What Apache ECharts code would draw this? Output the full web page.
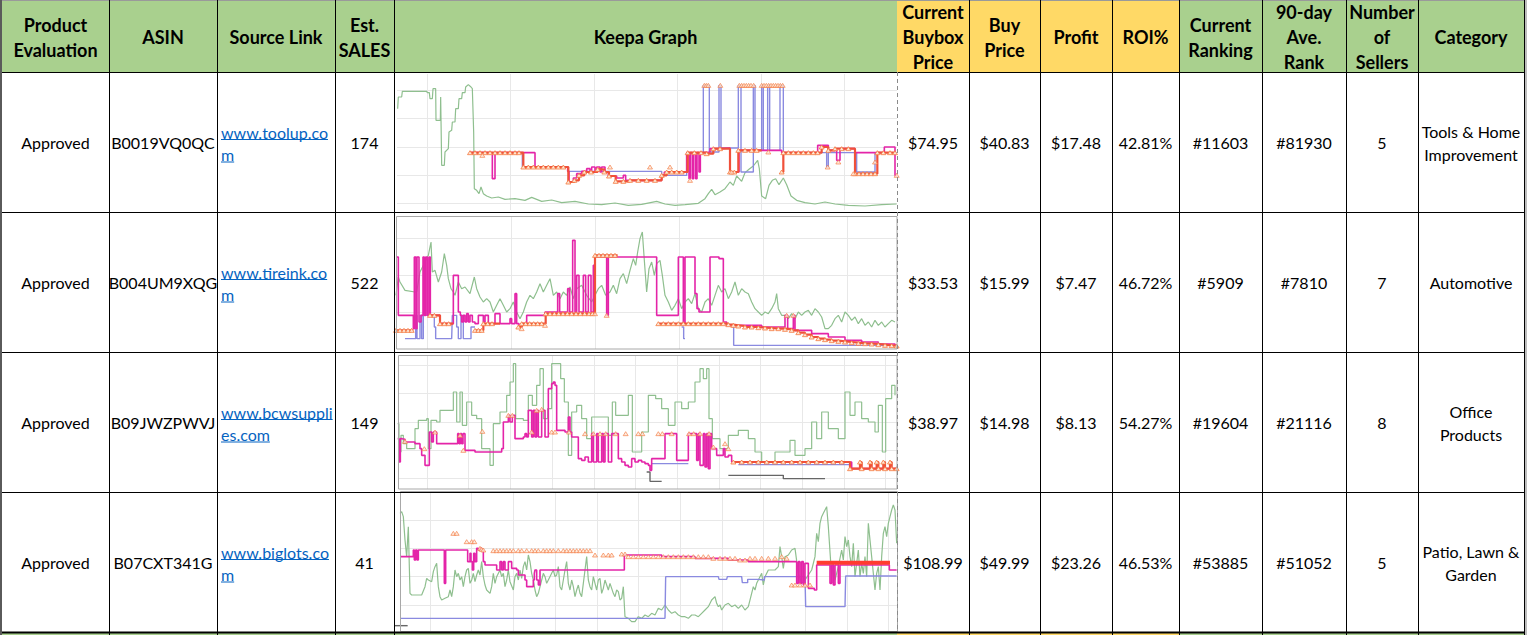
<!DOCTYPE html>
<html><head><meta charset="utf-8">
<script src="https://cdn.jsdelivr.net/npm/echarts@6/dist/echarts.min.js"></script>
<style>html,body{margin:0;padding:0;background:#fff}#c{width:1527px;height:635px}</style>
</head><body><div id="c"></div>
<script>
// ---------- table data ----------
const headers = ['Product\nEvaluation','ASIN','Source Link','Est.\nSALES','Keepa Graph','Current\nBuybox\nPrice','Buy\nPrice','Profit','ROI%','Current\nRanking','90-day\nAve.\nRank','Number\nof\nSellers','Category'];
const headerTone = ['g','g','g','g','g','y','y','y','y','g','g','g','g'];
const evaluation = ['Approved','Approved','Approved','Approved'];
const asin = ['B0019VQ0QC','B004UM9XQG','B09JWZPWVJ','B07CXT341G'];
const sourceLink = [['www.toolup.co','m'],['www.tireink.co','m'],['www.bcwsuppli','es.com'],['www.biglots.co','m']];
const estSales = [174,522,149,41];
const buyboxPrice = ['$74.95','$33.53','$38.97','$108.99'];
const buyPrice = ['$40.83','$15.99','$14.98','$49.99'];
const profit = ['$17.48','$7.47','$8.13','$23.26'];
const roi = ['42.81%','46.72%','54.27%','46.53%'];
const currentRanking = ['#11603','#5909','#19604','#53885'];
const avgRank90 = ['#81930','#7810','#21116','#51052'];
const sellers = [5,7,8,5];
const category = [['Tools & Home','Improvement'],['Automotive'],['Office','Products'],['Patio, Lawn &','Garden']];

// ---------- Keepa graph data (time index, level) ----------
const g1Rank = [[8,310],[10,345],[20,345],[22,362],[95,362],[97,358],[103,358],[105,340],[112,340],[114,370],[122,370],[123,275],[128,275],[136,275],[137,345],[139,345],[140,140],[148,140],[150,180],[160,190],[162,240],[170,245],[172,270],[180,270],[182,310],[190,310],[192,340],[200,340],[202,358],[210,358],[212,375],[220,382],[228,375],[232,370],[236,240],[238,70],[245,65],[252,55],[258,75],[265,55],[275,48],[290,42],[310,45],[330,38],[360,40],[390,35],[410,44],[440,32],[470,36],[500,28],[540,32],[580,24],[620,22],[660,27],[700,20],[740,23],[785,32],[810,24],[840,20],[870,22],[910,26],[930,40],[940,55],[950,68],[960,52],[975,60],[990,70],[1005,90],[1015,80],[1025,108],[1040,92],[1050,118],[1062,128],[1075,138],[1088,155],[1093,130],[1100,48],[1112,40],[1122,80],[1132,95],[1142,100],[1152,82],[1165,102],[1175,82],[1188,48],[1205,35],[1230,28],[1260,24],[1290,30],[1320,24],[1360,20],[1410,18],[1460,22],[1505,24]];
const g1BuyBox = [[225,178],[292,100],[300,178],[420,135],[518,122],[522,90],[535,102],[545,115],[560,122],[575,130],[585,120],[590,135],[600,120],[605,135],[615,120],[620,135],[630,120],[640,108],[665,102],[685,110],[692,95],[800,110],[808,120],[875,178],[882,100],[886,178],[892,100],[896,178],[902,100],[906,178],[912,120],[916,178],[925,180],[945,190],[975,192],[1005,120],[1032,185],[1160,178],[1268,200],[1300,185],[1325,155],[1335,190],[1380,178],[1468,195],[1500,110],[1505,110]];
const g1New = [[225,178],[378,178],[382,135],[520,122],[800,110],[875,178],[925,380],[943,180],[972,380],[978,192],[1030,380],[1038,120],[1075,380],[1080,185],[1100,380],[1105,185],[1118,380],[1124,185],[1155,380],[1165,178],[1295,135],[1300,178],[1385,120],[1440,178],[1505,178]];
const g1Fba = [[225,178],[240,178],[255,178],[270,178],[285,178],[300,178],[315,178],[330,178],[345,178],[360,178],[372,178],[385,135],[400,135],[415,135],[430,135],[445,135],[460,135],[475,135],[490,135],[505,135],[520,90],[538,95],[552,110],[568,120],[588,120],[608,128],[628,120],[642,108],[662,92],[685,92],[705,95],[730,95],[755,95],[780,95],[800,110],[815,120],[830,120],[845,120],[860,120],[878,178],[898,178],[918,178],[935,175],[955,190],[975,190],[1005,120],[1018,120],[1030,185],[1050,185],[1070,185],[1085,185],[1100,null],[1160,120],[1165,178],[1180,178],[1195,178],[1210,178],[1225,178],[1240,178],[1255,178],[1268,178],[1280,195],[1300,185],[1320,190],[1340,190],[1360,190],[1380,115],[1392,115],[1404,115],[1416,115],[1428,115],[1440,115],[1447,178],[1465,178],[1485,178],[1500,178]];
const g1Offers = [[928,380],[934,380],[940,380],[976,380],[1033,380],[1040,380],[1047,380],[1054,380],[1061,380],[1068,380],[1076,380],[1100,380],[1107,380],[1114,380],[1121,380],[1128,380],[1135,380],[1142,380],[1149,380],[1156,380],[1163,380],[262,170],[645,135],[765,135],[825,135],[885,95],[1010,120],[1120,180],[1298,135],[1330,150],[1440,150],[1375,115],[1505,110]];

const g2Rank = [[3,170],[10,225],[15,210],[30,185],[60,180],[65,180],[75,240],[90,270],[100,290],[108,330],[112,240],[120,245],[130,210],[140,240],[148,295],[155,260],[160,220],[168,190],[175,180],[180,170],[190,210],[200,190],[210,195],[225,175],[238,225],[245,190],[255,165],[265,150],[275,160],[285,150],[295,120],[305,140],[315,160],[325,140],[335,120],[345,130],[355,150],[365,120],[375,100],[385,120],[395,150],[405,170],[415,160],[425,180],[435,205],[445,180],[455,200],[465,220],[475,170],[485,180],[495,160],[505,180],[515,170],[525,195],[535,160],[545,190],[560,200],[575,170],[590,150],[600,170],[610,190],[620,200],[632,170],[645,180],[655,200],[665,175],[675,220],[685,235],[695,205],[705,245],[715,280],[722,260],[728,300],[735,340],[742,360],[748,275],[755,180],[762,250],[770,270],[778,230],[785,265],[795,275],[802,230],[810,170],[820,150],[830,125],[840,140],[850,160],[860,130],[870,150],[880,160],[890,145],[900,175],[910,130],[920,120],[930,150],[940,160],[950,140],[960,170],[970,200],[980,180],[990,190],[1000,160],[1010,180],[1020,210],[1030,170],[1040,190],[1050,180],[1060,175],[1070,150],[1080,130],[1090,120],[1100,110],[1110,120],[1120,115],[1130,130],[1140,150],[1145,175],[1150,130],[1160,110],[1170,110],[1180,100],[1190,115],[1200,100],[1210,120],[1220,110],[1230,120],[1240,125],[1250,110],[1260,130],[1270,120],[1280,105],[1290,70],[1300,70],[1310,80],[1320,100],[1330,110],[1340,90],[1350,120],[1360,110],[1370,95],[1380,105],[1390,85],[1400,100],[1410,80],[1420,90],[1430,75],[1440,95],[1450,80],[1460,90],[1470,75],[1480,85],[1490,95],[1500,90]];
const g2BuyBox = [[3,285],[10,110],[48,110],[55,70],[58,285],[63,70],[66,285],[72,90],[78,110],[84,285],[88,110],[92,285],[97,110],[102,285],[106,110],[135,85],[175,230],[190,120],[196,110],[200,90],[205,110],[210,90],[215,115],[220,90],[225,110],[232,90],[240,85],[250,110],[265,90],[270,110],[280,85],[300,115],[315,85],[345,100],[350,85],[360,175],[365,85],[372,75],[380,85],[395,110],[450,120],[488,175],[494,120],[518,190],[524,120],[533,335],[540,120],[545,230],[552,120],[565,230],[572,120],[580,230],[588,120],[595,260],[600,285],[635,110],[640,285],[785,110],[850,285],[865,85],[870,285],[900,175],[906,130],[912,120],[945,285],[965,285],[972,280],[985,90],[995,80],[1100,75],[1170,110],[1178,70],[1195,110],[1200,65],[1250,55],[1300,45],[1350,35],[1400,30],[1450,24],[1500,20]];
const g2New = [[30,40],[62,110],[66,40],[75,110],[80,40],[85,110],[118,75],[122,40],[170,40],[172,110],[185,75],[190,40],[198,110],[205,40],[225,40],[228,75],[240,null],[860,75],[866,40],[870,null],[1012,75],[1016,20],[1505,20]];
const g2Fba = [[3,65],[15,65],[27,65],[39,65],[50,65],[55,null],[105,110],[118,110],[135,85],[148,85],[161,85],[175,null],[240,65],[250,65],[260,65],[265,85],[278,85],[291,85],[315,null],[370,75],[380,85],[392,85],[404,85],[416,85],[428,85],[440,85],[452,115],[465,115],[478,115],[491,115],[504,115],[517,115],[530,115],[543,115],[556,115],[569,115],[582,115],[592,115],[600,290],[612,290],[624,290],[636,290],[648,290],[660,290],[668,null],[790,85],[805,85],[820,85],[835,85],[850,85],[865,85],[880,85],[895,85],[910,85],[925,85],[940,85],[955,85],[970,85],[985,85],[1000,82],[1015,80],[1030,78],[1050,75],[1070,75],[1090,73],[1110,72],[1130,70],[1150,70],[1170,68],[1190,65],[1210,58],[1230,52],[1250,45],[1270,40],[1290,37],[1310,34],[1330,32],[1350,30],[1370,28],[1390,26],[1410,25],[1430,24],[1450,22],[1470,20],[1490,19],[1505,18]];
const g2Offers = [[600,115],[635,110],[380,70],[450,80],[1175,110],[1195,110]];

const g3Rank = [[8,205],[12,120],[18,170],[25,145],[35,130],[60,190],[70,215],[95,220],[100,130],[108,215],[125,210],[135,245],[150,245],[175,300],[185,210],[195,300],[202,200],[215,270],[230,230],[245,220],[260,130],[285,80],[295,205],[315,240],[335,290],[345,330],[355,385],[362,220],[385,215],[400,290],[412,260],[425,320],[435,370],[445,220],[458,250],[470,385],[490,385],[497,340],[508,270],[520,110],[530,240],[545,260],[560,220],[575,160],[590,225],[640,170],[652,270],[662,230],[700,290],[712,120],[740,180],[760,290],[782,280],[800,250],[820,200],[840,270],[860,250],[880,270],[900,330],[915,370],[925,340],[935,370],[942,220],[952,160],[975,130],[1000,170],[1030,185],[1060,160],[1080,120],[1100,90],[1140,120],[1185,155],[1200,110],[1230,130],[1250,210],[1265,160],[1280,240],[1300,190],[1330,160],[1350,300],[1365,230],[1380,270],[1400,220],[1420,210],[1440,180],[1450,260],[1462,120],[1472,280],[1490,320],[1500,290]];
const g3BuyBox = [[8,160],[12,90],[16,160],[20,158],[30,150],[60,145],[75,130],[80,110],[90,80],[100,80],[103,180],[110,150],[115,180],[125,145],[185,145],[188,175],[192,145],[196,175],[200,145],[204,175],[210,125],[240,120],[300,120],[320,130],[325,210],[340,230],[345,210],[352,230],[360,160],[385,165],[390,175],[395,165],[400,245],[410,165],[415,245],[420,165],[425,245],[430,165],[440,245],[450,165],[460,310],[470,325],[475,330],[480,320],[485,185],[510,180],[520,225],[525,180],[530,165],[550,100],[560,95],[570,105],[580,90],[590,175],[595,90],[605,175],[610,90],[620,175],[625,90],[630,175],[640,90],[650,175],[670,100],[680,90],[690,80],[700,75],[710,100],[720,90],[730,95],[740,90],[750,85],[760,80],[765,65],[770,100],[810,175],[840,175],[845,95],[875,95],[880,175],[900,175],[905,95],[910,175],[915,80],[925,175],[930,75],[935,175],[940,70],[945,175],[950,130],[965,110],[985,130],[990,105],[1000,110],[1010,90],[1365,90],[1370,70],[1505,70]];
const g3New = [[770,85],[880,85],[881,null],[1030,82],[1370,82],[1371,null]];
const g3Fba = [[1015,90],[1040,90],[1065,90],[1090,90],[1115,90],[1140,90],[1165,90],[1190,90],[1215,90],[1240,90],[1265,90],[1290,90],[1315,90],[1340,90],[1365,70],[1395,90],[1400,70],[1425,90],[1430,70],[1445,90],[1450,70],[1465,90],[1470,70],[1485,90],[1490,70],[1505,70]];
const g3Offers = [[30,152],[88,130],[120,180],[195,170],[205,125],[262,182],[340,230],[352,230],[410,180],[425,245],[440,248],[470,180],[480,180],[522,180],[570,175],[595,175],[615,175],[632,175],[662,175],[692,175],[730,175],[742,175],[790,175],[802,175],[830,175],[882,175],[896,175],[915,175],[942,175],[955,135],[990,145],[1000,130]];
const g3Used = [[755,60],[765,32],[800,32],[801,null],[1000,50],[1165,40],[1290,40]];

const g4Rank = [[15,365],[20,370],[25,355],[30,285],[35,235],[40,325],[45,125],[50,120],[80,120],[90,145],[95,170],[100,165],[110,160],[115,190],[120,205],[125,215],[130,145],[135,115],[140,105],[150,110],[160,115],[165,135],[170,115],[175,145],[180,195],[185,175],[190,185],[195,165],[200,175],[205,145],[210,175],[215,195],[220,200],[225,155],[230,165],[235,185],[240,160],[245,180],[250,195],[255,180],[260,220],[265,175],[270,150],[275,135],[285,125],[290,145],[295,185],[300,155],[305,175],[315,195],[320,175],[325,185],[330,145],[335,165],[340,195],[345,160],[355,135],[360,175],[365,185],[370,165],[375,195],[380,170],[385,205],[390,220],[395,195],[400,240],[405,220],[410,185],[415,165],[420,135],[425,115],[430,125],[440,165],[445,185],[450,175],[455,155],[460,165],[470,185],[475,195],[480,175],[485,180],[490,205],[495,145],[500,135],[505,165],[510,195],[515,220],[520,155],[525,135],[530,165],[535,145],[540,115],[545,135],[550,150],[555,125],[560,115],[565,155],[570,195],[575,235],[580,165],[585,145],[590,135],[595,175],[600,155],[605,135],[610,165],[615,170],[620,125],[625,140],[630,165],[640,135],[645,155],[650,140],[655,125],[660,115],[665,135],[670,130],[675,105],[680,110],[685,145],[690,55],[700,50],[710,40],[720,40],[730,55],[740,50],[750,60],[760,55],[770,65],[780,60],[790,80],[800,75],[810,90],[820,75],[830,65],[840,70],[850,60],[860,55],[870,55],[880,50],[890,60],[900,60],[910,55],[920,65],[930,75],[940,85],[950,105],[960,115],[965,95],[970,85],[975,90],[980,75],[990,90],[1000,95],[1010,85],[1020,90],[1030,80],[1040,90],[1050,75],[1060,85],[1070,125],[1075,145],[1080,135],[1085,155],[1095,175],[1100,185],[1105,150],[1110,175],[1120,195],[1130,195],[1140,195],[1150,205],[1155,265],[1160,235],[1165,200],[1170,235],[1180,240],[1190,255],[1200,260],[1210,185],[1220,155],[1230,165],[1240,180],[1250,195],[1260,235],[1265,305],[1270,280],[1275,335],[1280,355],[1285,365],[1290,375],[1295,385],[1300,325],[1310,175],[1315,215],[1320,165],[1330,205],[1340,255],[1345,225],[1350,295],[1355,265],[1360,285],[1365,235],[1370,205],[1375,275],[1380,175],[1385,215],[1390,255],[1395,175],[1400,215],[1405,185],[1410,235],[1415,175],[1420,335],[1425,285],[1430,235],[1435,185],[1440,135],[1445,185],[1450,205],[1455,135],[1460,235],[1465,305],[1470,325],[1475,295],[1480,335],[1485,355],[1490,375],[1495,390],[1500,375],[1505,275]];
const g4BuyBox = [[15,235],[50,235],[55,255],[58,225],[62,255],[66,225],[70,255],[145,255],[148,155],[152,255],[215,255],[218,220],[225,245],[228,220],[232,195],[236,245],[240,220],[245,260],[250,255],[255,260],[260,255],[265,220],[270,210],[300,210],[305,195],[315,220],[320,195],[325,220],[330,195],[340,220],[350,200],[365,195],[370,180],[380,180],[390,165],[395,145],[410,145],[415,165],[418,185],[420,195],[425,165],[430,150],[435,195],[685,195],[688,240],[800,235],[850,235],[900,230],[940,230],[1000,225],[1050,225],[1060,220],[1190,220],[1205,155],[1210,220],[1215,155],[1220,220],[1225,150],[1230,215],[1240,140],[1250,140],[1258,135],[1265,210],[1300,210],[1305,155],[1310,210],[1315,150],[1320,210],[1330,155],[1335,210],[1480,210],[1483,195],[1505,195]];
const g4New = [[15,50],[810,50],[812,175],[970,175],[972,167],[995,167],[997,175],[1040,175],[1042,157],[1055,157],[1058,167],[1085,167],[1090,165],[1108,175],[1230,175],[1232,85],[1350,85],[1352,177],[1505,177]];
const g4Fba = [[1265,217],[1300,217],[1340,217],[1380,217],[1420,217],[1460,217],[1485,217]];
const g4Offers = [[175,305],[185,305],[215,280],[230,280],[238,280],[255,260],[260,257],[265,255],[295,253],[305,253],[315,253],[325,253],[335,253],[345,253],[355,253],[370,253],[380,253],[395,253],[410,253],[420,253],[430,253],[445,253],[455,253],[465,253],[475,253],[490,253],[505,253],[515,253],[525,253],[535,253],[545,253],[555,253],[565,253],[575,253],[585,253],[600,240],[625,240],[640,240],[650,240],[680,243],[690,243],[700,235],[715,235],[730,235],[745,235],[760,235],[775,235],[790,235],[805,235],[820,235],[835,235],[850,235],[865,235],[880,235],[895,235],[910,235],[925,235],[940,235],[955,230],[975,230],[990,230],[1005,230],[1020,230],[1035,225],[1050,225],[1065,230],[1080,230],[1100,230],[1120,230],[1140,230],[1160,235],[1175,230],[1190,150],[1200,150],[1215,150],[1230,150],[1245,150]];
const g4Used = [[0,28],[38,28]];

// ---------- layout ----------
const colX = [2,109,217,335,394,897,969,1040,1112,1179,1262,1346,1418,1524];
const rowY = [0,72,212,352,492,632];
const GREEN = '#A9D08E', GOLD = '#FFD966';
const FONT = 'Lato, Carlito, "Noto Sans", sans-serif';

const graphs = [
  {box:[395,72,505,140], H:420, frame:null, v:[427,83.5,74,210,897], h:[397,897,203.7,28.35,4],
   rank:g1Rank, rankStep:false, buy:g1BuyBox, nw:g1New, fba:g1Fba, offers:g1Offers, used:null},
  {box:[395,212,505,140], H:420, frame:[396.5,216.5,500.5,132.5], v:[427,84,216.5,349,897], h:[396.5,897,312,36.65,2],
   rank:g2Rank, rankStep:false, buy:g2BuyBox, nw:g2New, fba:g2Fba, offers:g2Offers, used:null},
  {box:[395,352,505,140], H:420, frame:[398.5,355.5,498.5,133.5], v:[427,41.7,355.5,489,897], h:[398.5,897,478.7,28.35,4],
   rank:g3Rank, rankStep:true, buy:g3BuyBox, nw:g3New, fba:g3Fba, offers:g3Offers, used:g3Used},
  {box:[395,490,505,145], H:435, frame:[400.5,491.5,497,140], v:[430,41.7,491.5,631.5,897.5], h:[400.5,897.5,605,28.33,3],
   rank:g4Rank, rankStep:false, buy:g4BuyBox, nw:g4New, fba:g4Fba, offers:g4Offers, used:g4Used, fbaThick:true}
];

const grid=[], xAxis=[], yAxis=[], series=[];
const hidden = {show:false};
const GL = '#e8e8e8';
const triStyle = {color:'#fde6d6', borderColor:'#f47a40', borderWidth:0.8};
const TRI = [5,4];
graphs.forEach((g,gi)=>{
  const base = grid.length;
  grid.push({left:g.box[0], top:g.box[1], width:g.box[2], height:g.box[3], containLabel:false});
  xAxis.push({type:'value', gridIndex:base, min:0, max:1515, show:false});
  yAxis.push({type:'value', gridIndex:base, min:0, max:g.H, show:false});
  const vw = g.v[4]-g.v[0];
  grid.push({left:g.v[0], top:g.v[2], width:vw, height:g.v[3]-g.v[2], containLabel:false});
  xAxis.push({type:'value', gridIndex:base+1, min:0, max:vw, interval:g.v[1], axisLine:hidden, axisTick:hidden, axisLabel:hidden,
    splitLine:{show:true, showMaxLine:false, lineStyle:{color:GL, width:1}}});
  yAxis.push({type:'value', gridIndex:base+1, min:0, max:1, show:false});
  const hh = g.h[3]*g.h[4];
  grid.push({left:g.h[0], top:g.h[2]-hh, width:g.h[1]-g.h[0], height:hh, containLabel:false});
  xAxis.push({type:'value', gridIndex:base+2, min:0, max:1, show:false});
  yAxis.push({type:'value', gridIndex:base+2, min:0, max:hh, interval:g.h[3], axisLine:hidden, axisTick:hidden, axisLabel:hidden,
    splitLine:{show:true, lineStyle:{color:GL, width:1}}});

  const common = {xAxisIndex:base, yAxisIndex:base, silent:true, animation:false};
  series.push(Object.assign({type:'line', data:g.rank, symbol:'none', step:g.rankStep?'end':false,
    lineStyle:{color:'#8fbf8f', width:1.2}, z:2}, common));
  if (g.used) series.push(Object.assign({type:'line', data:g.used, symbol:'none', step:'end',
    lineStyle:{color:'#666', width:1.4}, z:2}, common));
  series.push(Object.assign({type:'line', data:g.nw, symbol:'none', step:'end',
    lineStyle:{color:'#8a8ae0', width:1.4}, z:3}, common));
  series.push(Object.assign({type:'line', data:g.buy, symbol:'none', step:'end',
    lineStyle:{color:'#e424a8', width:1.6}, z:4}, common));
  if (g.fbaThick) {
    series.push(Object.assign({type:'line', data:g.fba, symbol:'none', step:'end',
      lineStyle:{color:'#ff3b2f', width:4}, z:5}, common));
  } else {
    series.push(Object.assign({type:'line', data:g.fba, step:'end', symbol:'triangle', symbolSize:TRI, showSymbol:true,
      itemStyle:triStyle, lineStyle:{color:'#f0503a', width:2.2}, z:5}, common));
  }
  series.push(Object.assign({type:'scatter', data:g.offers, symbol:'triangle', symbolSize:TRI,
    itemStyle:triStyle, z:6}, common));
});

// ---------- table graphics ----------
const gfx = [];
const ctx = document.createElement('canvas').getContext('2d');
for (let c=0;c<headers.length;c++){
  const fill = headerTone[c]==='y'?GOLD:GREEN;
  gfx.push({type:'rect', shape:{x:colX[c], y:0, width:colX[c+1]-colX[c], height:rowY[1]}, style:{fill}, z:0, silent:true});
  gfx.push({type:'rect', shape:{x:colX[c], y:rowY[5]+1, width:colX[c+1]-colX[c], height:3}, style:{fill}, z:0, silent:true});
  gfx.push({type:'text', style:{text:headers[c], x:(colX[c]+colX[c+1])/2, y:37, align:'center', verticalAlign:'middle',
    fontFamily:FONT, fontWeight:'bold', fontSize:18, lineHeight:25, fill:'#000'}, z:120, silent:true});
}
graphs.forEach(g=>{ if(g.frame) gfx.push({type:'rect', shape:{x:g.frame[0],y:g.frame[1],width:g.frame[2],height:g.frame[3]},
  style:{fill:null, stroke:'#a8a8a8', lineWidth:1}, z:90, silent:true}); });
function cellText(c, r, txt){
  const cy = (rowY[r+1]+rowY[r+2])/2;
  gfx.push({type:'text', style:{text:String(txt), x:(colX[c]+colX[c+1])/2, y:cy, align:'center', verticalAlign:'middle',
    fontFamily:FONT, fontSize:16, fill:'#000'}, z:120, silent:true});
}
for (let r=0;r<4;r++){
  cellText(0,r,evaluation[r]);
  cellText(1,r,asin[r]);
  cellText(3,r,estSales[r]);
  cellText(5,r,buyboxPrice[r]);
  cellText(6,r,buyPrice[r]);
  cellText(7,r,profit[r]);
  cellText(8,r,roi[r]);
  cellText(9,r,currentRanking[r]);
  cellText(10,r,avgRank90[r]);
  cellText(11,r,sellers[r]);
  const cy = (rowY[r+1]+rowY[r+2])/2;
  const cat = category[r];
  cat.forEach((t,i)=>{
    const y = cat.length===1 ? cy : (i===0 ? cy-11 : cy+12);
    gfx.push({type:'text', style:{text:t, x:(colX[12]+colX[13])/2, y, align:'center', verticalAlign:'middle',
      fontFamily:FONT, fontSize:16, fill:'#000'}, z:120, silent:true});
  });
  ctx.font = '16px ' + FONT;
  sourceLink[r].forEach((t,i)=>{
    const y = i===0 ? cy-10 : cy+12.5;
    gfx.push({type:'text', style:{text:t, x:colX[2]+4, y, align:'left', verticalAlign:'middle',
      fontFamily:FONT, fontSize:16, fill:'#0563C1'}, z:120, silent:true});
    const w = ctx.measureText(t).width;
    gfx.push({type:'line', shape:{x1:colX[2]+4, y1:y+7.5, x2:colX[2]+4+w, y2:y+7.5}, style:{stroke:'#0563C1', lineWidth:1}, z:120, silent:true});
  });
}
for (let i=1;i<rowY.length;i++){
  const y = rowY[i];
  gfx.push({type:'line', shape:{x1:colX[0], y1:y+0.5, x2:colX[colX.length-1], y2:y+0.5},
    style:{stroke:'#000', lineWidth: i===rowY.length-1?2:1}, z:110, silent:true});
}
gfx.push({type:'line', shape:{x1:0, y1:0.5, x2:1527, y2:0.5}, style:{stroke:'#9a9a9a', lineWidth:1}, z:110, silent:true});
colX.forEach((x,i)=>{
  if (i===0) return;
  if (x===897) {
    gfx.push({type:'line', shape:{x1:x+0.5, y1:rowY[1], x2:x+0.5, y2:rowY[5]}, style:{stroke:'#8a8a8a', lineWidth:1, lineDash:[4,3]}, z:110, silent:true});
  } else {
    gfx.push({type:'line', shape:{x1:x+0.5, y1:0, x2:x+0.5, y2:rowY[5]+4}, style:{stroke:'#000', lineWidth:1}, z:110, silent:true});
  }
});
gfx.push({type:'rect', shape:{x:0, y:0, width:2, height:635}, style:{fill:'#5a5a5a'}, z:110, silent:true});
gfx.push({type:'rect', shape:{x:1525, y:0, width:2, height:635}, style:{fill:'#bdbdbd'}, z:110, silent:true});

const chart = echarts.init(document.getElementById('c'), null, {renderer:'svg', width:1527, height:635});
chart.setOption({
  backgroundColor:'#ffffff',
  animation:false,
  grid, xAxis, yAxis, series,
  graphic:{elements:gfx}
});
</script></body></html>
